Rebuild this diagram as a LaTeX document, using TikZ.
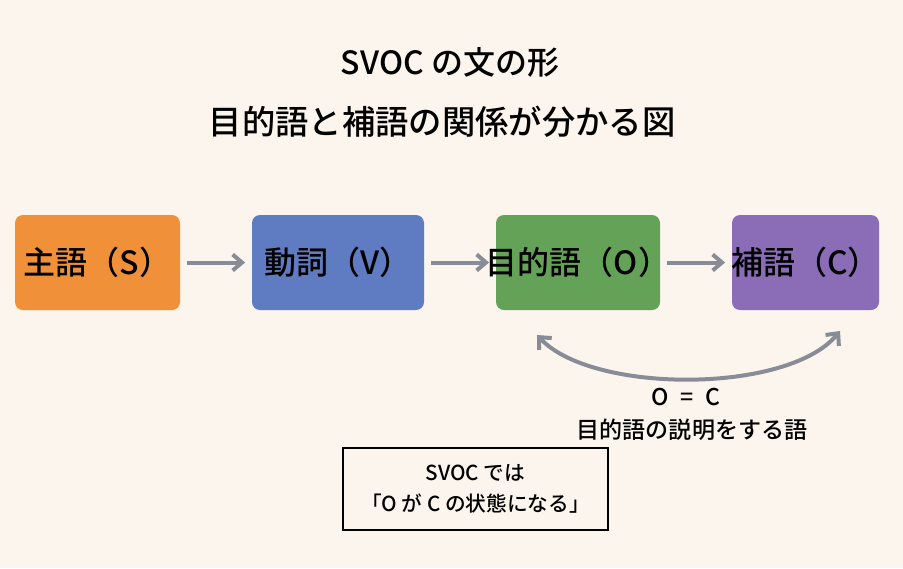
\documentclass[tikz,border=0pt]{standalone}
\usepackage{fontspec}
\newfontfamily\jpfont{Noto Sans CJK JP}[BoldFont={Noto Sans CJK JP Medium}]
\usetikzlibrary{positioning}
\usetikzlibrary{arrows.meta}
\definecolor{paper}{HTML}{FCF5EE}
\definecolor{boxS}{HTML}{F0913A}
\definecolor{boxV}{HTML}{5F7BC1}
\definecolor{boxO}{HTML}{64A357}
\definecolor{boxC}{HTML}{8B6DB7}
\definecolor{arrowgray}{HTML}{878C97}
\tikzset{
    part/.style = {rectangle, rounded corners=6, minimum height=71.25pt, inner sep=0pt, label={[text=black, font=\jpfont\bfseries\fontsize{24pt}{28pt}\selectfont]center:#1}},
    flow/.style = {-{Straight Barb[length=7pt,width=12pt]}, line width=3pt, draw=arrowgray, shorten <=5pt, shorten >=5pt},
    relarrow/.style = {{Straight Barb[length=7pt,width=13pt]}-{Straight Barb[length=7pt,width=13pt]}, line width=3pt, draw=arrowgray},
    title/.style = {font=\jpfont\bfseries\fontsize{24pt}{28pt}\selectfont},
    note/.style = {font=\jpfont\bfseries\fontsize{17.3pt}{20pt}\selectfont},
    summary/.style = {draw=black, thick, fill=paper, minimum width=198.75pt, minimum height=61.5pt, align=center, font=\jpfont\bfseries\fontsize{15.5pt}{23pt}\selectfont},
}
\begin{document}
\begin{tikzpicture}[x=0.75pt,y=-0.75pt]
\fill[paper] (0,0) rectangle (903,568);
\useasboundingbox (0,0) rectangle (903,568);
%
\node[title] (t1) at (450,62) {SVOC の文の形};
\node[title, font=\jpfont\bfseries\fontsize{25pt}{28pt}\selectfont] (t2) at (442,122) {目的語と補語の関係が分かる図};
%
\node[part=主語（S）, fill=boxS, minimum width=123.75pt] (s) at (97.5,262.5) {};
\node[part=動詞（V）, fill=boxV, minimum width=129pt] (v) at (338,262.5) {};
\node[part=目的語（O）, fill=boxO, minimum width=123pt] (o) at (578,262.5) {};
\node[part=補語（C）, fill=boxC, minimum width=110.25pt] (c) at (805.5,262.5) {};
%
\draw[flow] (s) -- (v);
\draw[flow] (v) -- (o);
\draw[flow] (o) -- (c);
%
\coordinate (oend) at (537,335);
\coordinate (cend) at (840,331);
\draw[relarrow] (oend) .. controls (592,394) and (788,394) .. (cend);
\node[note] (eq) at (686,397) {O\enspace=\enspace C};
\node[note] (expl) at (692,430) {目的語の説明をする語};
%
\node[summary] (sum) at (475.5,489) {SVOC では\\「O が C の状態になる」};

\end{tikzpicture}
\end{document}
